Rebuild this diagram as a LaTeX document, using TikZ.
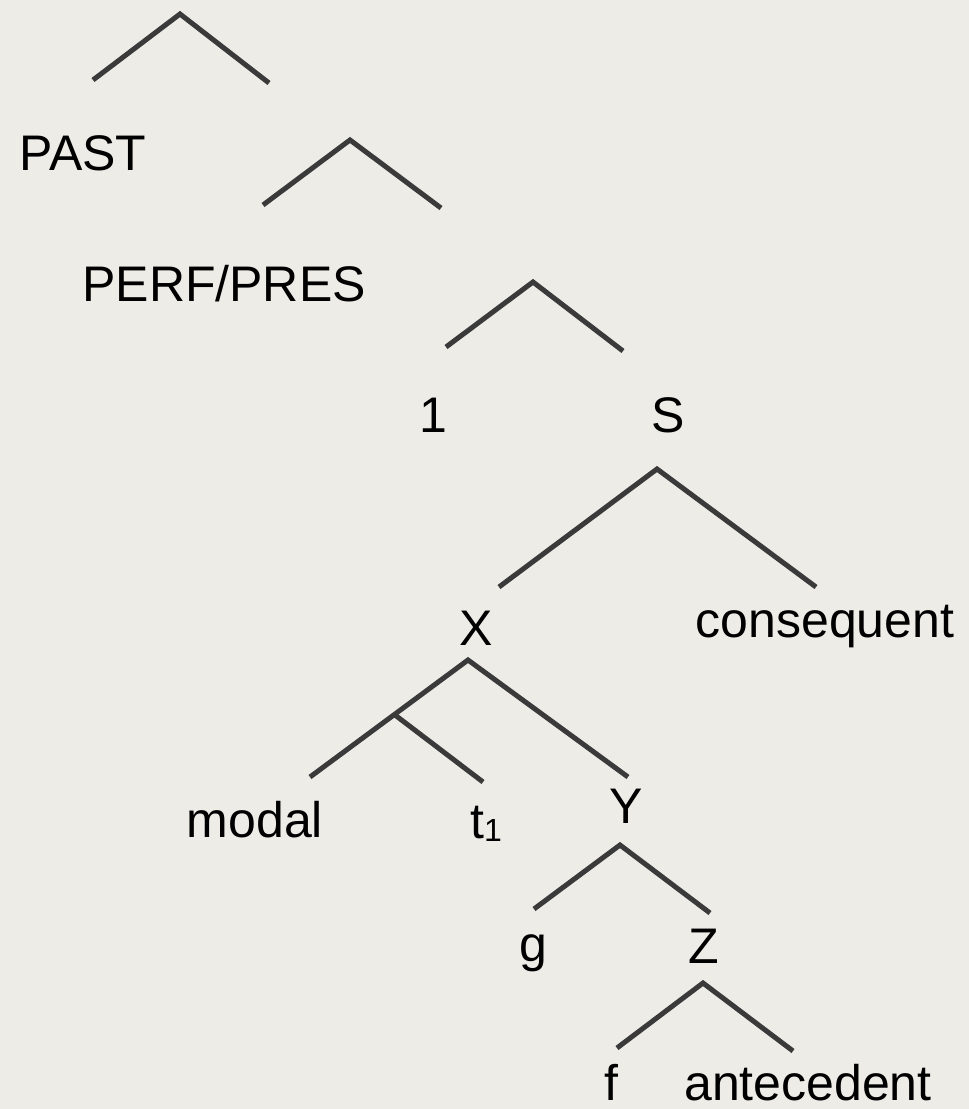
\documentclass[tikz,border=0pt]{standalone}
\usepackage{fontspec}
\setmainfont{Liberation Sans}
\usetikzlibrary{positioning}
\definecolor{paper}{HTML}{EDECE7}
\definecolor{ink}{HTML}{3A3A3A}

\begin{document}
\begin{tikzpicture}[x=1pt,y=-1pt]
\tikzset{
  word/.style={anchor=base,inner sep=0pt,text=black,font=\fontsize{50}{60}\selectfont},
  branch/.style={draw=ink,line width=5pt},
}
\fill[paper] (0,0) rectangle (969,1109);
%
\node[word] (past) at (83,170) {PAST};
\node[word] (perfpres) at (224,301) {PERF/PRES};
\node[word] (one) at (433,432) {1};
\node[word] (s) at (668,432) {S};
\node[word] (x) at (476,645) {X};
\node[word] (consequent) at (825,637) {consequent};
\node[word] (modal) at (255,837) {modal};
\node[word,anchor=base west] (trace) at (470,838) {t\raisebox{-3pt}{\fontsize{32}{32}\selectfont 1}};
\node[word] (y) at (626,823) {Y};
\node[word] (g) at (533,961) {g};
\node[word] (z) at (704,963) {Z};
\node[word] (f) at (611,1100) {f};
\node[word] (antecedent) at (808,1100) {antecedent};
%
\coordinate (root) at (180,14);
\coordinate (root l) at (93,80);
\coordinate (root r) at (269,83);
\coordinate (tense) at (350,140);
\coordinate (tense l) at (263,205);
\coordinate (tense r) at (441,208);
\coordinate (asp) at (533,282);
\coordinate (asp l) at (446,347);
\coordinate (asp r) at (623,351);
\coordinate (s top) at (657,469);
\coordinate (s l) at (499,587);
\coordinate (s r) at (816,587);
\coordinate (x top) at (468,660);
\coordinate (x mid) at (395,715);
\coordinate (x l) at (310,777);
\coordinate (x t) at (483,782);
\coordinate (x r) at (628,777);
\coordinate (y top) at (620,845);
\coordinate (y l) at (534,909);
\coordinate (y r) at (710,913);
\coordinate (z top) at (703,983);
\coordinate (z l) at (617,1048);
\coordinate (z r) at (793,1051);
%
\path[branch] (root l) -- (root) -- (root r);
\path[branch] (tense l) -- (tense) -- (tense r);
\path[branch] (asp l) -- (asp) -- (asp r);
\path[branch] (s l) -- (s top) -- (s r);
\path[branch] (x l) -- (x top) -- (x r);
\path[branch] (x mid) -- (x t);
\path[branch] (y l) -- (y top) -- (y r);
\path[branch] (z l) -- (z top) -- (z r);
\end{tikzpicture}
\end{document}
